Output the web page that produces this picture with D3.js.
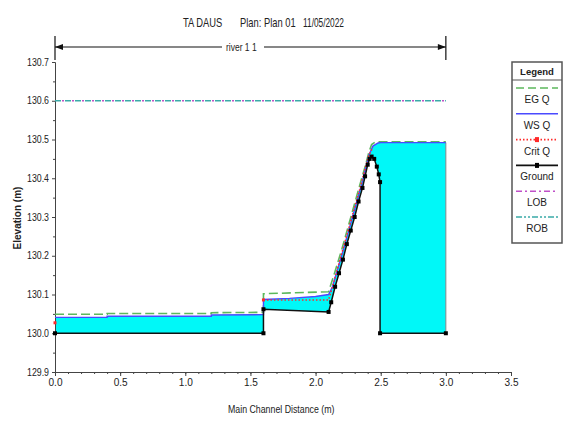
<!DOCTYPE html>
<html>
<head>
    <style>
        body { margin: 0; background: #fff; }
        svg text { font-family: "Liberation Sans", Arial, sans-serif; fill: #222; }
        .tick text { font-size: 10px; }
        .axis path, .axis line { stroke: #444; }
    </style>
    <script src="https://d3js.org/d3.v7.min.js"></script>
</head>
<body>
    <script>
        // ---- data ----
        var groundX = [0, 1.6, 1.6, 2.1, 2.12, 2.15, 2.18, 2.21, 2.24, 2.27, 2.30, 2.33, 2.36, 2.38, 2.40, 2.415, 2.43, 2.45, 2.47, 2.485, 2.495, 2.495, 3.0];
        var groundY = [130.0, 130.0, 130.062, 130.055, 130.08, 130.12, 130.155, 130.19, 130.23, 130.265, 130.30, 130.34, 130.375, 130.405, 130.435, 130.45, 130.456, 130.45, 130.43, 130.41, 130.39, 130.0, 130.0];

        var wsX = [0, 0.4, 0.4, 1.2, 1.2, 1.6, 1.6, 1.8, 2.0, 2.1, 2.13, 2.16, 2.2, 2.25, 2.3, 2.35, 2.38, 2.41, 2.44, 2.48, 2.5, 3.0];
        var wsY = [130.041, 130.041, 130.044, 130.044, 130.047, 130.048, 130.087, 130.09, 130.095, 130.10, 130.12, 130.155, 130.20, 130.26, 130.32, 130.38, 130.42, 130.46, 130.483, 130.491, 130.492, 130.492];

        var egX = [0, 0.4, 0.4, 1.2, 1.2, 1.6, 1.6, 2.1, 2.15, 2.2, 2.25, 2.3, 2.35, 2.38, 2.41, 2.43, 2.46, 3.0];
        var egY = [130.049, 130.049, 130.051, 130.051, 130.053, 130.054, 130.102, 130.107, 130.16, 130.215, 130.275, 130.335, 130.395, 130.43, 130.468, 130.487, 130.494, 130.494];

        var critX = [0, NaN, 1.6, 2.1, 2.13, 2.2, 2.25, 2.3, 2.35, 2.38, 2.41, 2.44];
        var critY = [130.027, NaN, 130.086, 130.086, 130.12, 130.205, 130.265, 130.325, 130.385, 130.425, 130.46, 130.48];

        var lobX = [0, 3.0], lobY = [130.6, 130.6];
        var robX = [0, 3.0], robY = [130.6, 130.6];

        var xTicks = [0, 0.5, 1.0, 1.5, 2.0, 2.5, 3.0, 3.5];
        var yTicks = [129.9, 130.0, 130.1, 130.2, 130.3, 130.4, 130.5, 130.6, 130.7];
        var legendNames = ["EG  Q", "WS  Q", "Crit  Q", "Ground", "LOB", "ROB"];

        var width = 566, height = 424;
        var svg = d3.select("body").append("svg").attr("width", width).attr("height", height);

        var x = d3.scaleLinear().domain([0, 3.5]).range([55, 511]);
        var y = d3.scaleLinear().domain([129.9, 130.7]).range([372, 62]);

        function pts(xs, ys) { return xs.map(function(v, i) { return [v, ys[i]]; }); }

        var line = d3.line()
            .defined(function(d) { return !isNaN(d[0]); })
            .x(function(d) { return x(d[0]); })
            .y(function(d) { return y(d[1]); });

        // water fill: WS on top, ground back underneath
        var fillPts = pts(wsX, wsY).concat(pts(groundX, groundY).reverse());
        svg.append("path")
           .attr("d", line(fillPts) + "Z")
           .attr("fill", "#00f8f8")
           .attr("stroke", "none");
        svg.append("line")
           .attr("x1", x(3.0)).attr("x2", x(3.0))
           .attr("y1", y(130.0)).attr("y2", y(130.492))
           .attr("stroke", "#888").attr("stroke-width", 1);

        // axes
        svg.append("g").attr("class", "axis")
           .attr("transform", "translate(55,0)")
           .call(d3.axisLeft(y).tickValues(yTicks).tickFormat(d3.format(".1f")).tickSize(3).tickSizeOuter(0));
        svg.append("g").attr("class", "axis")
           .attr("transform", "translate(55,0)")
           .call(d3.axisLeft(y).tickValues(d3.range(129.95, 130.7, 0.1)).tickFormat("").tickSize(2).tickSizeOuter(0));
        svg.append("g").attr("class", "axis")
           .attr("transform", "translate(0,372)")
           .call(d3.axisBottom(x).tickValues(xTicks).tickFormat(d3.format(".1f")).tickSize(4).tickSizeOuter(0));
        svg.append("g").attr("class", "axis")
           .attr("transform", "translate(0,372)")
           .call(d3.axisBottom(x).tickValues(d3.range(0.1, 3.5, 0.1)).tickFormat("").tickSize(2).tickSizeOuter(0));
        svg.selectAll(".axis .domain").attr("stroke", "#444");
        svg.selectAll(".axis .tick text")
           .attr("textLength", function() { return this.textContent.length > 3 ? 22 : 14; })
           .attr("lengthAdjust", "spacingAndGlyphs");

        // LOB / ROB
        svg.append("path").attr("d", line(pts(robX, robY)))
           .attr("fill", "none").attr("stroke", "#3aaaa8").attr("stroke-width", 1.6)
           .attr("stroke-dasharray", "6,4");
        svg.append("path").attr("d", line(pts(lobX, lobY)))
           .attr("fill", "none").attr("stroke", "#c050c8").attr("stroke-width", 1.6)
           .attr("stroke-dasharray", "2,8").attr("stroke-dashoffset", 3);

        // EG
        svg.append("path").attr("d", line(pts(egX, egY)))
           .attr("fill", "none").attr("stroke", "#5cb85c").attr("stroke-width", 1.6)
           .attr("stroke-dasharray", "9,4");
        // WS
        svg.append("path").attr("d", line(pts(wsX, wsY)))
           .attr("fill", "none").attr("stroke", "#4a4aff").attr("stroke-width", 1.4);
        // Crit
        svg.append("path").attr("d", line(pts(critX, critY)))
           .attr("fill", "none").attr("stroke", "#ff2a2a").attr("stroke-width", 1.5)
           .attr("stroke-dasharray", "1.5,2");
        svg.selectAll(".crit").data([0, 2]).enter().append("rect")
           .attr("x", function(i) { return x(critX[i]) - 1.5; })
           .attr("y", function(i) { return y(critY[i]) - 1.5; })
           .attr("width", 3).attr("height", 3).attr("fill", "#ff2a2a");

        // Ground
        svg.append("path").attr("d", line(pts(groundX, groundY)))
           .attr("fill", "none").attr("stroke", "#111").attr("stroke-width", 1.5);
        svg.selectAll(".gm").data(pts(groundX, groundY)).enter().append("rect")
           .attr("x", function(d) { return x(d[0]) - 2; })
           .attr("y", function(d) { return y(d[1]) - 2; })
           .attr("width", 4).attr("height", 4).attr("fill", "#000");

        // condensed text, like the original's narrow font
        function narrow(px, py, size, k, txt) {
            return svg.append("text")
                .attr("transform", "translate(" + px + "," + py + ") scale(" + k + ",1)")
                .attr("font-size", size).text(txt);
        }
        narrow(183, 27, 13, 0.72, "TA DAUS");
        narrow(240, 27, 13, 0.72, "Plan: Plan 01");
        narrow(303, 27, 13, 0.64, "11/05/2022");

        svg.append("text")
           .attr("transform", "translate(21,218) rotate(-90)")
           .attr("text-anchor", "middle").attr("font-size", 10).attr("font-weight", "bold")
           .attr("fill", "#555").text("Elevation (m)");
        narrow(228, 413, 10, 0.88, "Main Channel Distance (m)");

        // river reach arrow
        var ry = 47;
        var reach = svg.append("g").attr("stroke", "#111").attr("stroke-width", 1.2);
        reach.append("line").attr("x1", x(0)).attr("x2", x(0)).attr("y1", 36).attr("y2", 60);
        reach.append("line").attr("x1", x(3.0)).attr("x2", x(3.0)).attr("y1", 36).attr("y2", 60);
        reach.append("line").attr("x1", x(0)).attr("x2", 222).attr("y1", ry).attr("y2", ry);
        reach.append("line").attr("x1", 264).attr("x2", x(3.0)).attr("y1", ry).attr("y2", ry);
        svg.append("path")
           .attr("d", "M" + x(0) + "," + ry + "l8,-3v6z M" + x(3.0) + "," + ry + "l-8,-3v6z")
           .attr("fill", "#111");
        narrow(226, ry + 4, 10, 0.85, "river 1 1");

        // legend
        var lg = svg.append("g");
        lg.append("rect").attr("x", 512).attr("y", 62).attr("width", 50).attr("height", 181)
          .attr("fill", "#fff").attr("stroke", "#555").attr("stroke-width", 1.5);
        lg.append("line").attr("x1", 512).attr("x2", 562).attr("y1", 80).attr("y2", 80)
          .attr("stroke", "#555").attr("stroke-width", 1.2);
        lg.append("text").attr("x", 537).attr("y", 75).attr("text-anchor", "middle")
          .attr("font-size", 9.5).attr("font-weight", "bold").text("Legend");

        var styles = [
            { c: "#5cb85c", dash: "8,4", w: 1.6 },
            { c: "#4a4aff", dash: null, w: 1.6 },
            { c: "#ff2a2a", dash: "1.5,2", w: 1.6 },
            { c: "#111", dash: null, w: 1.6 },
            { c: "#c050c8", dash: "6,3,2,3", w: 1.6 },
            { c: "#3aaaa8", dash: "6,2,2,2,2,2", w: 1.6 }
        ];
        var items = lg.selectAll(".item").data(legendNames).enter().append("g")
            .attr("transform", function(d, i) { return "translate(0," + (88 + i * 25.8) + ")"; });
        items.append("line").attr("x1", 516).attr("x2", 558).attr("y1", 0).attr("y2", 0)
            .attr("stroke", function(d, i) { return styles[i].c; })
            .attr("stroke-width", function(d, i) { return styles[i].w; })
            .attr("stroke-dasharray", function(d, i) { return styles[i].dash; });
        items.append("text").attr("x", 537).attr("y", 15).attr("text-anchor", "middle")
            .attr("font-size", 10).text(function(d) { return d; });
        items.filter(function(d, i) { return i === 2 || i === 3; }).append("rect")
            .attr("x", 535).attr("y", -2.5).attr("width", 4).attr("height", 5)
            .attr("fill", function(d, i) { return i === 0 ? "#ff2a2a" : "#000"; });
    </script>
</body>
</html>
